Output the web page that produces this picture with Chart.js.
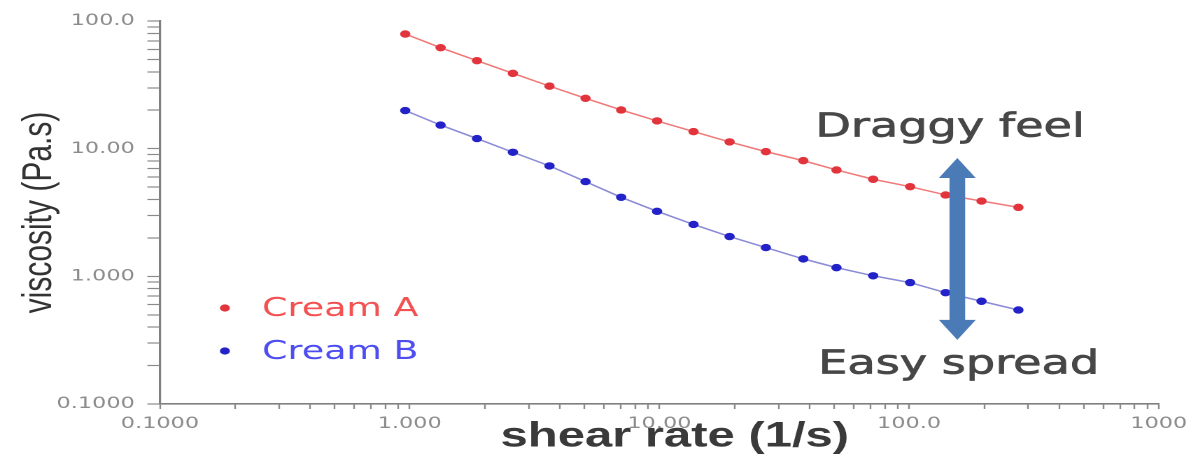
<!DOCTYPE html>
<html>
<head>
<meta charset="utf-8">
<title>viscosity vs shear rate</title>
<script src="https://cdn.jsdelivr.net/npm/chart.js@4/dist/chart.umd.min.js"></script>
<style>
  html, body { margin: 0; padding: 0; background: #fff; overflow: hidden; }
  /* the source picture is stretched sideways, so the whole chart is too */
  #wrap { width: 856px; height: 462px; transform: scaleX(1.3995); transform-origin: 0 0; }
</style>
</head>
<body>
<div id="wrap"><canvas id="viscosity"></canvas></div>
<script>
// values
const shearRate = [0.96, 1.33, 1.86, 2.59, 3.63, 5.06, 7.03, 9.79, 13.7, 19.1, 26.7, 37.7, 51.2, 71.8, 101, 140, 195, 274];
const creamA = [79.1, 61.8, 48.9, 38.9, 30.9, 24.8, 20.1, 16.5, 13.6, 11.3, 9.48, 8.06, 6.81, 5.76, 5.04, 4.34, 3.89, 3.47];
const creamB = [19.9, 15.3, 12.0, 9.37, 7.33, 5.52, 4.16, 3.23, 2.55, 2.05, 1.68, 1.37, 1.17, 1.01, 0.893, 0.745, 0.638, 0.545];

const xDecades = [0.1, 1, 10, 100, 1000];
const xTickLabels = ["0.1000", "1.000", "10.00", "100.0", "1000"];
const yDecades = [0.1, 1, 10, 100];
const yTickLabels = ["0.1000", "1.000", "10.00", "100.0"];

const seriesNames = ["Cream A", "Cream B"];

function points(ys) {
  return shearRate.map((x, i) => ({ x: x, y: ys[i] }));
}

// majors at every decade, minors at 2..9
function logTicks(decades) {
  let out = [];
  decades.forEach((d, i) => {
    out.push({ value: d, major: true });
    if (i < decades.length - 1) {
      for (let m = 2; m <= 9; m++) out.push({ value: d * m, major: false });
    }
  });
  return out;
}

function decadeLabel(decades, labels) {
  return function (value) {
    for (let i = 0; i < decades.length; i++) {
      if (Math.abs(value - decades[i]) < decades[i] * 1e-6) return labels[i];
    }
    return "";
  };
}

const font = "'DejaVu Sans', Verdana, sans-serif";
const arial = "'Liberation Sans', Arial, sans-serif";

const overlay = {
  id: "overlay",
  afterDatasetsDraw(chart) {
    const ctx = chart.ctx;
    const xs = chart.scales.x, ys = chart.scales.y;
    const area = chart.chartArea;
    ctx.save();

    // double arrow
    const ax = xs.getPixelForValue(156);
    const top = ys.getPixelForValue(8.45);
    const bot = ys.getPixelForValue(0.318);
    const hw = 13.2, sw = 5.6, hl = 20;
    ctx.fillStyle = "#4a7bb7";
    ctx.beginPath();
    ctx.moveTo(ax, top);
    ctx.lineTo(ax + hw, top + hl);
    ctx.lineTo(ax + sw, top + hl);
    ctx.lineTo(ax + sw, bot - hl);
    ctx.lineTo(ax + hw, bot - hl);
    ctx.lineTo(ax, bot);
    ctx.lineTo(ax - hw, bot - hl);
    ctx.lineTo(ax - sw, bot - hl);
    ctx.lineTo(ax - sw, top + hl);
    ctx.lineTo(ax - hw, top + hl);
    ctx.closePath();
    ctx.fill();

    // notes
    ctx.fillStyle = "#474747";
    ctx.strokeStyle = "#474747";
    ctx.lineWidth = 0.7;
    ctx.textAlign = "center";
    ctx.textBaseline = "alphabetic";
    ctx.font = "33px " + font;
    let tx = xs.getPixelForValue(146), ty = ys.getPixelForValue(12.4);
    ctx.fillText("Draggy feel", tx, ty);
    ctx.strokeText("Draggy feel", tx, ty);
    tx = xs.getPixelForValue(158); ty = ys.getPixelForValue(0.174);
    ctx.fillText("Easy spread", tx, ty);
    ctx.strokeText("Easy spread", tx, ty);

    // legend
    ctx.textAlign = "left";
    ctx.textBaseline = "middle";
    ctx.font = "26px " + font;
    chart.data.datasets.forEach((ds, i) => {
      const ly = 308 + i * 43;
      ctx.fillStyle = ds.pointBackgroundColor;
      ctx.beginPath();
      ctx.arc(area.left + 46.4, ly, 3.6, 0, Math.PI * 2);
      ctx.fill();
      ctx.fillStyle = i === 0 ? "#f25252" : "#4d4df0";
      ctx.fillText(ds.label, area.left + 73, ly + 1);
    });

    // axis titles
    ctx.fillStyle = "#3a3a3a";
    ctx.textAlign = "center";
    ctx.textBaseline = "alphabetic";
    ctx.font = "bold 35px " + arial;
    ctx.fillText("shear rate (1/s)", (area.left + area.right) / 2 + 11, 446.5);

    ctx.fillStyle = "#333";
    ctx.translate(28, (area.top + area.bottom) / 2);
    ctx.rotate(-Math.PI / 2);
    ctx.textBaseline = "middle";
    ctx.font = "30px " + arial;
    ctx.fillText("viscosity (Pa.s)", 0, 0);
    ctx.restore();
  }
};

const ctx = document.getElementById("viscosity").getContext("2d");

const chart = new Chart(ctx, {
  type: "line",
  data: {
    datasets: [
      {
        label: seriesNames[0],
        data: points(creamA),
        borderColor: "#f07a7a",
        borderWidth: 1.5,
        pointBackgroundColor: "#e2343c",
        pointBorderWidth: 0,
        pointRadius: 3.7,
        tension: 0
      },
      {
        label: seriesNames[1],
        data: points(creamB),
        borderColor: "#8c8cd6",
        borderWidth: 1.5,
        pointBackgroundColor: "#2222c8",
        pointBorderWidth: 0,
        pointRadius: 3.7,
        tension: 0
      }
    ]
  },
  options: {
    responsive: true,
    maintainAspectRatio: false,
    animation: false,
    devicePixelRatio: 2,
    layout: { padding: { left: 0, right: 28, top: 21, bottom: 0 } },
    plugins: {
      legend: { display: false },
      tooltip: { enabled: false }
    },
    scales: {
      x: {
        type: "logarithmic",
        min: 0.1,
        max: 1000,
        afterBuildTicks: (scale) => { scale.ticks = logTicks(xDecades); },
        afterFit: (scale) => { scale.height = 58; },
        grid: { drawOnChartArea: false, drawTicks: true, tickLength: 5, tickColor: "#8a8a8a", tickWidth: 1.2 },
        border: { color: "#808080", width: 1.6 },
        ticks: {
          autoSkip: false,
          maxRotation: 0,
          padding: 5,
          color: "#8c8c8c",
          font: { family: font, size: 16 },
          callback: decadeLabel(xDecades, xTickLabels)
        }
      },
      y: {
        type: "logarithmic",
        min: 0.1,
        max: 100,
        afterBuildTicks: (scale) => { scale.ticks = logTicks(yDecades); },
        afterFit: (scale) => { scale.width = 114.3; },
        grid: { drawOnChartArea: false, drawTicks: true, tickLength: 9, tickColor: "#8a8a8a", tickWidth: 1.2 },
        border: { color: "#808080", width: 1.6 },
        ticks: {
          autoSkip: false,
          padding: 9,
          color: "#8c8c8c",
          font: { family: font, size: 16 },
          callback: decadeLabel(yDecades, yTickLabels)
        }
      }
    }
  },
  plugins: [overlay]
});
</script>
</body>
</html>
